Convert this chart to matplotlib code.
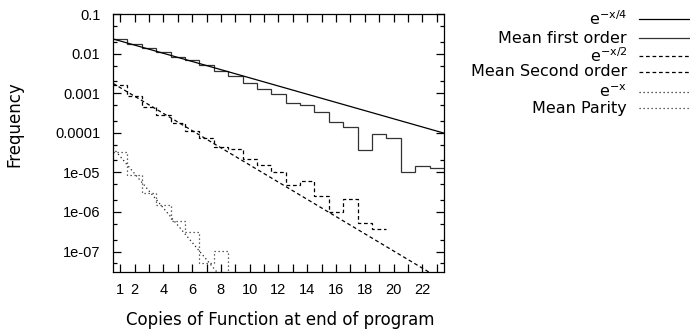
import numpy as np
import matplotlib
matplotlib.use("Agg")
import matplotlib.pyplot as plt
from matplotlib.lines import Line2D
from matplotlib.ticker import FixedLocator, FixedFormatter, LogLocator, NullFormatter

plt.rcParams['font.family'] = ['Liberation Sans', 'DejaVu Sans']
plt.rcParams['mathtext.fontset'] = 'custom'
plt.rcParams['mathtext.rm'] = 'DejaVu Sans'
plt.rcParams['mathtext.it'] = 'DejaVu Sans'
plt.rcParams['axes.unicode_minus'] = False

# ---- data ----
copies = np.arange(1, 24)
mean_first_order = [0.0229, 0.0174, 0.0141, 0.0112, 0.00832, 0.00692, 0.00513, 0.00372,
                    0.00269, 0.00178, 0.00126, 0.000955, 0.000575, 0.000501, 0.000339,
                    0.000191, 0.000138, 3.72e-5, 9.12e-5, 7.24e-5, 1.05e-5, 1.45e-5, 1.26e-5]
mean_second_order = [1.62e-3, 8.51e-4, 4.57e-4, 2.82e-4, 1.80e-4, 1.12e-4, 7.24e-5, 4.47e-5,
                     3.80e-5, 2.14e-5, 1.58e-5, 1.0e-5, 4.79e-6, 5.89e-6, 2.51e-6, 1.02e-6,
                     2.14e-6, 5.13e-7, 3.72e-7]
mean_parity = [3.31e-5, 8.51e-6, 3.09e-6, 1.51e-6, 5.75e-7, 3.16e-7, 5.25e-8, 1.05e-7, 1e-12]

# reference exponentials: amplitude * exp(-x / decay)
exp_amp = [0.0264, 2.28e-3, 6.87e-5]
exp_decay = [4.2, 2.0, 1.0]
exp_labels = [r'e$^{\mathrm{-x/4}}$', r'e$^{\mathrm{-x/2}}$', r'e$^{\mathrm{-x}}$']
mean_labels = ['Mean first order', 'Mean Second order', 'Mean Parity']

x_ticks = list(range(1, 24))
x_tick_labels = ['1'] + [str(v) if v % 2 == 0 else '' for v in range(2, 24)]
y_ticks = [1e-7, 1e-6, 1e-5, 1e-4, 1e-3, 1e-2, 1e-1]
y_tick_labels = ['1e-07', '1e-06', '1e-05', '0.0001', '0.001', '0.01', '0.1']

# ---- figure ----
W, H = 690, 331
AX_L, AX_R, AX_T, AX_B = 113, 444, 14, 272
fig = plt.figure(figsize=(W / 100, H / 100), dpi=100)
ax = fig.add_axes([AX_L / W, 1 - AX_B / H, (AX_R - AX_L) / W, (AX_B - AX_T) / H])

xs = np.linspace(0.5, 23.5, 400)
dash = (0, (3.0, 2.2))
dot = (0, (1.0, 2.2))
styles = ['-', dash, dot]
colors_exp = ['black', 'black', '#222222']
colors_mean = ['#333333', 'black', '#333333']
LW = 0.9

means = [mean_first_order, mean_second_order, mean_parity]
for i in range(3):
    ax.plot(xs, exp_amp[i] * np.exp(-xs / exp_decay[i]), color=colors_exp[i],
            linestyle=styles[i], lw=LW)
    vals = np.asarray(means[i])
    edges = np.arange(1, len(vals) + 2) - 0.5
    ax.stairs(vals, edges, baseline=None, color=colors_mean[i],
              linestyle=styles[i], lw=LW)

ax.set_yscale('log', nonpositive='clip')
ax.set_ylim(3.05e-8, 0.1)
ax.set_xlim(0.5, 23.5)

ax.yaxis.set_major_locator(FixedLocator(y_ticks))
ax.yaxis.set_major_formatter(FixedFormatter(y_tick_labels))
ax.yaxis.set_minor_locator(LogLocator(base=10, subs=[2.0, 5.0], numticks=20))
ax.yaxis.set_minor_formatter(NullFormatter())
ax.xaxis.set_major_locator(FixedLocator(x_ticks))
ax.xaxis.set_major_formatter(FixedFormatter(x_tick_labels))

ax.tick_params(axis='both', which='major', direction='in', length=5.8, width=0.9,
               top=True, right=True, labelsize=10.5, colors='black')
ax.tick_params(axis='y', which='major', pad=9)
ax.tick_params(axis='x', which='major', pad=8)
ax.tick_params(axis='y', which='minor', direction='in', length=3, width=0.9,
               left=True, right=True)
for s in ax.spines.values():
    s.set_linewidth(0.9)

LABEL_FONT = 'DejaVu Sans'
ax.set_xlabel('Copies of Function at end of program', fontsize=12, family=LABEL_FONT)
ax.xaxis.set_label_coords((280 - AX_L) / (AX_R - AX_L), (AX_B - 311) / (AX_B - AX_T))
ax.set_ylabel('Frequency', fontsize=12, family=LABEL_FONT)
ax.yaxis.set_label_coords((23 - AX_L) / (AX_R - AX_L), (AX_B - 124) / (AX_B - AX_T))

# ---- legend (key drawn at the right, gnuplot style) ----
legend_rows_px = [19, 38.3, 55.5, 71.7, 91.7, 108.3]
labels, key_styles, key_colors = [], [], []
for i in range(3):
    labels += [exp_labels[i], mean_labels[i]]
    key_styles += [styles[i], styles[i]]
    key_colors += [colors_exp[i], colors_mean[i]]
for lab, ls, col, ypx in zip(labels, key_styles, key_colors, legend_rows_px):
    yf = 1 - ypx / H
    fig.text(627 / W, yf, lab, ha='right', va='center', fontsize=11.5, family=LABEL_FONT)
    fig.add_artist(Line2D([639 / W, 1.0], [yf, yf], transform=fig.transFigure,
                          color=col, linestyle=ls, lw=LW))

fig.savefig('out.png', dpi=100)
